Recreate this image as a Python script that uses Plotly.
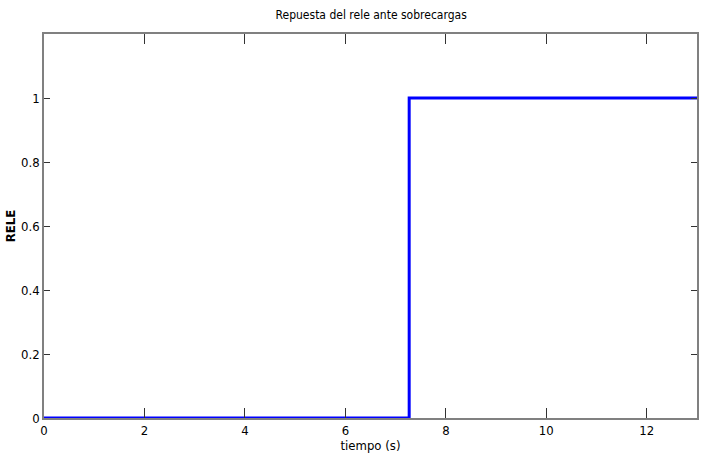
import plotly.graph_objects as go

# Data: relay response (step)
tiempo = [0, 7.27, 7.27, 13]
rele = [0, 0, 1, 1]
x_ticks = [0, 2, 4, 6, 8, 10, 12]
y_ticks = [0, 0.2, 0.4, 0.6, 0.8, 1]
y_tick_labels = ["0", "0.2", "0.4", "0.6", "0.8", "1"]

FONT = "DejaVu Sans Condensed, Liberation Sans Narrow, Arial Narrow, Liberation Sans, Arial"

fig = go.Figure()
fig.add_trace(go.Scatter(x=tiempo, y=rele, mode="lines",
                         line=dict(color="#0000FF", width=3), showlegend=False))

axis_common = dict(showgrid=False, zeroline=False, showline=True, linecolor="#808080",
                   linewidth=1.5, mirror="allticks", ticks="inside",
                   tickcolor="#333333", tickwidth=1,
                   tickfont=dict(family=FONT, size=13, color="#000000"))

fig.update_xaxes(range=[0, 13], tickvals=x_ticks, ticklen=10, **axis_common,
                 title=dict(text="tiempo (s)", font=dict(family=FONT, size=13, color="#000000"), standoff=3))
fig.update_yaxes(range=[0, 1.2], tickvals=y_ticks, ticktext=y_tick_labels, ticklen=6, **axis_common,
                 title=dict(text="<b>RELE</b>", font=dict(family=FONT, size=13, color="#000000"), standoff=3))

fig.update_layout(
    width=707, height=459,
    margin=dict(l=44, r=8, t=34, b=41),
    paper_bgcolor="white", plot_bgcolor="white",
    title=dict(text="Repuesta del rele ante sobrecargas", x=0.525, xanchor="center",
               y=1 - 15/459, yanchor="middle",
               font=dict(family=FONT, size=12, color="#000000")),
)

fig.write_html("out.html")
